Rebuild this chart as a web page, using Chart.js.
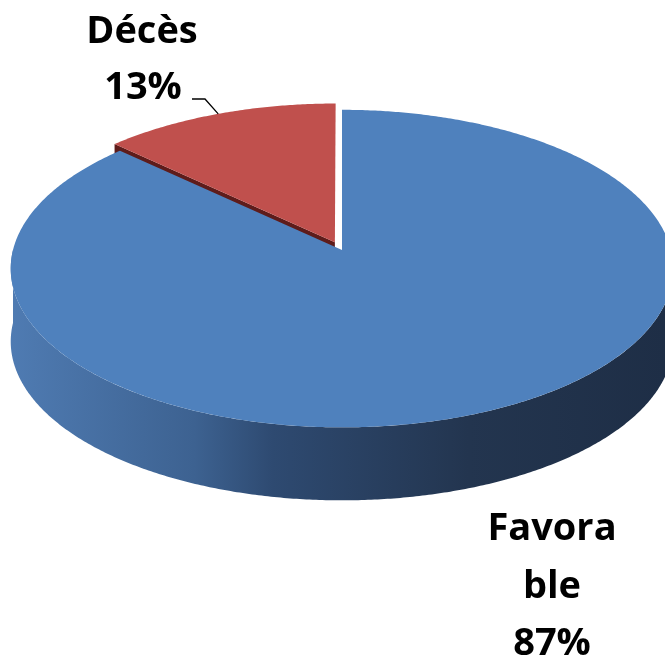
<!DOCTYPE html>
<html>
<head>
<meta charset="utf-8">
<script src="https://cdn.jsdelivr.net/npm/chart.js@4.4.1/dist/chart.umd.min.js"></script>
<style>
  html, body { margin: 0; padding: 0; background: #fff; }
  #wrap { width: 665px; height: 660px; }
</style>
</head>
<body>
<div id="wrap"><canvas id="pie" width="665" height="660"></canvas></div>
<script>
const categories = [ 'Favorable', 'Décès' ];
const percents   = [ 87, 13 ];
const labelLines = [ [ 'Favora', 'ble', '87%' ], [ 'Décès', '13%' ] ];
const explode    = [ 0, 18 ];

const TOP_COLOURS  = [ '#4f81bd', '#c0504d' ];
const FACE_COLOURS = [ '#2b4468', '#5e1c1b' ];
const WALL_STOPS   = [
    [ [ 0, '#4f7bb2' ], [ 0.28, '#3d6291' ], [ 0.4, '#2e4a71' ], [ 0.7, '#23354f' ], [ 1, '#1e2e46' ] ],
    [ [ 0, '#a94542' ], [ 0.4, '#7d2f2d' ], [ 1, '#4e1817' ] ],
];

// projection of the tilted disk (a bit of perspective: front is larger)
const R = 329, CX = 342, CY = 250, P = 0.117, K = 0.476, DEPTH = 73;

function proj( u, v, h ) {
    const s = 1 / ( 1 - P * v / R );
    return [ CX + u * s, CY + K * v * s + h ];
}

const pie3d = {
    id: 'pie3d',
    beforeDatasetsDraw( chart ) {
        const ctx  = chart.ctx;
        const meta = chart.getDatasetMeta( 0 );
        const arcs = meta.data.map( ( arc, i ) => ( { arc, i, mid: ( arc.startAngle + arc.endAngle ) / 2 } ) );
        // back slices first
        arcs.sort( ( a, b ) => Math.sin( a.mid ) - Math.sin( b.mid ) );

        arcs.forEach( ( { arc, i, mid } ) => {
            const off = arc.options.offset || 0;
            const du = Math.cos( mid ) * off, dv = Math.sin( mid ) * off;
            const pt = ( a, r, h ) => proj( r * Math.cos( a ) + du, r * Math.sin( a ) + dv, h );
            const start = arc.startAngle, end = arc.endAngle;
            const rimPath = ( from, to, h, first ) => {
                const n = Math.max( 2, Math.ceil( Math.abs( to - from ) / ( Math.PI / 360 ) ) );
                for ( let s = 0; s <= n; s++ ) {
                    const p = pt( from + ( to - from ) * s / n, R, h );
                    if ( s === 0 && first ) ctx.moveTo( p[ 0 ], p[ 1 ] ); else ctx.lineTo( p[ 0 ], p[ 1 ] );
                }
            };

            // outer wall, front half only
            const grad = ctx.createLinearGradient( 11, 0, 665, 0 );
            WALL_STOPS[ i ].forEach( ( [ o, c ] ) => grad.addColorStop( o, c ) );
            for ( let k = -1; k <= 1; k++ ) {
                const lo = Math.max( start, 2 * Math.PI * k );
                const hi = Math.min( end, 2 * Math.PI * k + Math.PI );
                if ( lo >= hi ) continue;
                ctx.beginPath();
                rimPath( lo, hi, 0, true );
                rimPath( hi, lo, DEPTH, false );
                ctx.closePath();
                ctx.fillStyle = grad;
                ctx.fill();
            }

            // radial cut faces that turn toward the viewer
            const face = ( a ) => {
                const c0 = pt( 0, 0, 0 ), c1 = pt( 0, 0, DEPTH );
                const r0 = pt( a, R, 0 ), r1 = pt( a, R, DEPTH );
                ctx.beginPath();
                ctx.moveTo( c0[ 0 ], c0[ 1 ] );
                ctx.lineTo( r0[ 0 ], r0[ 1 ] );
                ctx.lineTo( r1[ 0 ], r1[ 1 ] );
                ctx.lineTo( c1[ 0 ], c1[ 1 ] );
                ctx.closePath();
                ctx.fillStyle = FACE_COLOURS[ i ];
                ctx.fill();
            };
            if ( Math.cos( start ) < -0.01 ) face( start );
            if ( Math.cos( end ) > 0.01 ) face( end );

            // top face
            const c = pt( 0, 0, 0 );
            ctx.beginPath();
            ctx.moveTo( c[ 0 ], c[ 1 ] );
            rimPath( start, end, 0, false );
            ctx.closePath();
            ctx.fillStyle = arc.options.backgroundColor;
            ctx.fill();
        } );
        return false;
    },
    afterDraw( chart ) {
        const ctx  = chart.ctx;
        const meta = chart.getDatasetMeta( 0 );
        const red  = meta.data[ 1 ];
        const mid  = ( red.startAngle + red.endAngle ) / 2;
        const off  = red.options.offset || 0;
        const tip  = proj( ( R + off ) * Math.cos( mid ), ( R + off ) * Math.sin( mid ), 0 );

        // leader line for the small slice
        ctx.save();
        ctx.strokeStyle = '#000';
        ctx.lineWidth = 1.3;
        ctx.beginPath();
        ctx.moveTo( tip[ 0 ], tip[ 1 ] );
        ctx.lineTo( 205, 99 );
        ctx.lineTo( 192, 99 );
        ctx.stroke();

        ctx.fillStyle = '#000';
        ctx.font = 'bold 38px "Open Sans"';
        ctx.textAlign = 'center';
        ctx.textBaseline = 'alphabetic';
        ctx.fillText( labelLines[ 1 ][ 0 ], 142, 43 );
        ctx.fillText( labelLines[ 1 ][ 1 ], 143, 99 );
        labelLines[ 0 ].forEach( ( t, j ) => ctx.fillText( t, 552, 540 + j * 57.5 ) );
        ctx.restore();
    },
};

new Chart( document.getElementById( 'pie' ), {
    type: 'pie',
    data: {
        labels: categories,
        datasets: [ {
            data: percents,
            backgroundColor: TOP_COLOURS,
            borderWidth: 0,
            offset: explode,
        } ],
    },
    options: {
        responsive: false,
        animation: false,
        events: [],
        plugins: {
            legend: { display: false },
            tooltip: { enabled: false },
        },
    },
    plugins: [ pie3d ],
} );
</script>
</body>
</html>
